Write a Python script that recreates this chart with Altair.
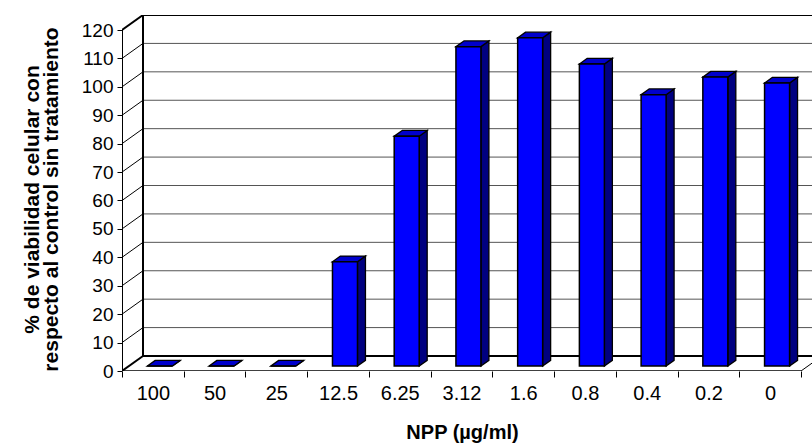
import json

import altair as alt
import pandas as pd

# ---- data -------------------------------------------------------------
concentrations = ["100", "50", "25", "12.5", "6.25", "3.12", "1.6", "0.8", "0.4", "0.2", "0"]
viability = [0, 0, 0, 36.7, 80.9, 112.4, 115.5, 106.3, 95.5, 101.7, 99.6]
y_ticks = list(range(0, 121, 10))

# ---- geometry of the pseudo-3D box (pixels) ---------------------------
WIDTH, HEIGHT = 812, 445
LEFT, TOP = 122, 15
PLOT_W = WIDTH - LEFT
PLOT_H = 356
N = len(concentrations)
FRONT_W = 679            # length of the front floor edge
DEPTH_PX_X, DEPTH_PX_Y = 21, 15
BAR_PX = 25              # bar front face width
D0, D1 = 0.33, 0.71      # depth fractions of bar front / back faces

unit_x = FRONT_W / N
unit_y = (PLOT_H - DEPTH_PX_Y) / y_ticks[-1]
X_MAX = PLOT_W / unit_x
Y_MAX = PLOT_H / unit_y
DX = DEPTH_PX_X / unit_x
DY = DEPTH_PX_Y / unit_y
BW = BAR_PX / unit_x

FONT = "Liberation Sans"
BLUE, SIDE, TOPC = "#0000ff", "#000080", "#0000cc"

xs = alt.Scale(domain=[0, X_MAX], nice=False, zero=False)
ys = alt.Scale(domain=[0, Y_MAX], nice=False, zero=False)

label_expr = (
    "datum.value % 1 === 0.5 ? "
    + json.dumps(concentrations)
    + "[floor(datum.value)] : ''"
)

# the same axis definitions are given to every layer so they merge cleanly
x_axis = alt.Axis(
    values=[i * 0.5 for i in range(2 * N + 1)],
    labelExpr=label_expr,
    labelOverlap=False,
    labelFlush=False,
    labelFont=FONT,
    labelFontSize=20,
    labelColor="#000000",
    labelPadding=6,
    tickSize=6,
    tickColor={"condition": {"test": "datum.value % 1 === 0", "value": "#000000"},
               "value": "transparent"},
    tickWidth=1,
    domain=False,
    grid=False,
    title="NPP (µg/ml)",
    titleFont=FONT,
    titleFontSize=20,
    titleFontWeight="bold",
    titleColor="#000000",
    titleAlign="center",
    titleBaseline="alphabetic",
    titleX=340,
    titleY=67,
)

y_axis = alt.Axis(
    values=y_ticks,
    labelFont=FONT,
    labelFontSize=19,
    labelColor="#000000",
    labelPadding=4,
    tickSize=5,
    tickColor="#000000",
    tickWidth=1,
    domain=False,
    grid=False,
    title=["% de viabilidad celular con", "respecto al control sin tratamiento"],
    titleFont=FONT,
    titleFontSize=21,
    titleFontWeight="bold",
    titleColor="#000000",
    titleAngle=270,
    titleAlign="center",
    titleBaseline="middle",
    titleLineHeight=19,
    titleX=-90,
    titleY=184,
)

# ---- tables derived from the data -------------------------------------
front = pd.DataFrame({
    "idx": range(N),
    "value": viability,
})
front["xl"] = front["idx"] + 0.5 - BW / 2 + D0 * DX
front["xr"] = front["xl"] + BW
front["yb"] = D0 * DY
front["yt"] = front["value"] + D0 * DY

rows = []
for i, v in enumerate(viability):
    for d in (D0, D1):
        rows.append({
            "idx": i,
            "xs": i + 0.5 + BW / 2 + d * DX,
            "ysb": d * DY,
            "yst": v + d * DY,
            "ytop": v + d * DY,
            "xtl": i + 0.5 - BW / 2 + d * DX,
            "xtr": i + 0.5 + BW / 2 + d * DX,
        })
faces = pd.DataFrame(rows)

grid = pd.DataFrame({"v": y_ticks})
grid["yb"] = grid["v"] + DY
grid["x0"] = 0.0
grid["x1"] = DX
grid["xb"] = X_MAX
grid["w"] = [2.0 if v in (0, y_ticks[-1]) else 1.0 for v in y_ticks]
grid["c"] = ["#000000" if v in (0, y_ticks[-1]) else "#555555" for v in y_ticks]

frame = pd.DataFrame([
    # front left edge
    {"x": 0.0, "x2": 0.0, "y": 0.0, "y2": float(y_ticks[-1]), "w": 2.0},
    # back left edge
    {"x": DX, "x2": DX, "y": DY, "y2": y_ticks[-1] + DY, "w": 2.0},
    # front floor edge
    {"x": 0.0, "x2": float(N), "y": 0.0, "y2": 0.0, "w": 1.5},
    # right floor edge
    {"x": float(N), "x2": N + DX, "y": 0.0, "y2": DY, "w": 1.0},
])

# ---- layers -----------------------------------------------------------
back_grid = alt.Chart(grid).mark_rule(clip=True).encode(
    x=alt.X("x1:Q", scale=xs, axis=x_axis),
    x2="xb:Q",
    y=alt.Y("yb:Q", scale=ys, axis=y_axis),
    color=alt.Color("c:N", scale=None),
    strokeWidth=alt.StrokeWidth("w:Q", scale=None),
)

side_wall = alt.Chart(grid).mark_rule(clip=True).encode(
    x=alt.X("x0:Q", scale=xs, axis=x_axis),
    x2="x1:Q",
    y=alt.Y("v:Q", scale=ys, axis=y_axis),
    y2="yb:Q",
    color=alt.value("#000000"),
    strokeWidth=alt.StrokeWidth("w:Q", scale=None),
)

edges = alt.Chart(frame).mark_rule(clip=True, color="#000000").encode(
    x=alt.X("x:Q", scale=xs, axis=x_axis),
    x2="x2:Q",
    y=alt.Y("y:Q", scale=ys, axis=y_axis),
    y2="y2:Q",
    strokeWidth=alt.StrokeWidth("w:Q", scale=None),
)

bar_sides = alt.Chart(faces).mark_area(
    fill=SIDE, stroke="#000000", strokeWidth=1.3, strokeJoin="miter", clip=True
).encode(
    x=alt.X("xs:Q", scale=xs, axis=x_axis),
    y=alt.Y("yst:Q", scale=ys, axis=y_axis),
    y2="ysb:Q",
    detail="idx:N",
)

bar_tops = alt.Chart(faces).mark_area(
    orient="horizontal", fill=TOPC, stroke="#000000", strokeWidth=1.3,
    strokeJoin="miter", clip=True
).encode(
    y=alt.Y("ytop:Q", scale=ys, axis=y_axis),
    x=alt.X("xtl:Q", scale=xs, axis=x_axis),
    x2="xtr:Q",
    detail="idx:N",
)

bar_fronts = alt.Chart(front).mark_rect(
    fill=BLUE, stroke="#000000", strokeWidth=1.5, clip=True
).encode(
    x=alt.X("xl:Q", scale=xs, axis=x_axis),
    x2="xr:Q",
    y=alt.Y("yb:Q", scale=ys, axis=y_axis),
    y2="yt:Q",
)

chart = alt.layer(
    back_grid, side_wall, edges, bar_sides, bar_tops, bar_fronts
).properties(
    width=PLOT_W,
    height=PLOT_H,
    padding={"left": LEFT, "top": TOP, "right": 0, "bottom": HEIGHT - TOP - PLOT_H},
    autosize="none",
    background="#ffffff",
).configure_view(stroke=None)

chart.save("out.html", embed_options={"renderer": "svg", "actions": False})
